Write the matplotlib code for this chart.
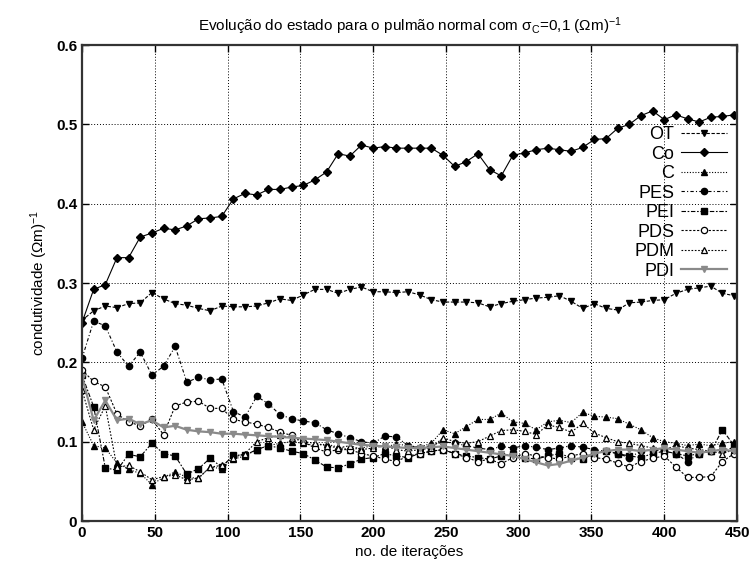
import matplotlib
matplotlib.use("Agg")
import matplotlib.pyplot as plt
import numpy as np

plt.rcParams['font.family'] = ['Liberation Sans', 'DejaVu Sans']
plt.rcParams['mathtext.fontset'] = 'custom'
plt.rcParams['mathtext.rm'] = 'Liberation Sans'
plt.rcParams['mathtext.it'] = 'Liberation Sans:italic'

iteracoes = np.arange(0, 449, 8)

ot = [0.253, 0.265, 0.271, 0.269, 0.274, 0.275, 0.288, 0.280, 0.274, 0.272,
      0.268, 0.265, 0.271, 0.270, 0.270, 0.271, 0.275, 0.280, 0.278, 0.285,
      0.292, 0.292, 0.287, 0.292, 0.295, 0.289, 0.289, 0.288, 0.289, 0.285,
      0.279, 0.276, 0.276, 0.276, 0.275, 0.270, 0.274, 0.277, 0.279, 0.281,
      0.282, 0.284, 0.277, 0.268, 0.274, 0.268, 0.266, 0.275, 0.276, 0.278,
      0.279, 0.287, 0.292, 0.294, 0.296, 0.287, 0.284]
co = [0.250, 0.292, 0.298, 0.332, 0.332, 0.358, 0.363, 0.369, 0.367, 0.372,
      0.381, 0.382, 0.384, 0.406, 0.413, 0.411, 0.418, 0.418, 0.421, 0.423,
      0.430, 0.440, 0.463, 0.460, 0.474, 0.470, 0.472, 0.470, 0.470, 0.470,
      0.470, 0.461, 0.447, 0.453, 0.463, 0.443, 0.435, 0.461, 0.464, 0.468,
      0.470, 0.468, 0.466, 0.471, 0.481, 0.482, 0.495, 0.500, 0.511, 0.517,
      0.506, 0.512, 0.507, 0.503, 0.509, 0.510, 0.512]
c = [0.125, 0.095, 0.092, 0.073, 0.065, 0.060, 0.046, 0.055, 0.062, 0.055,
     0.054, 0.068, 0.066, 0.078, 0.082, 0.090, 0.095, 0.098, 0.100, 0.098,
     0.095, 0.097, 0.093, 0.090, 0.092, 0.095, 0.093, 0.097, 0.095, 0.093,
     0.098, 0.115, 0.110, 0.119, 0.128, 0.128, 0.136, 0.125, 0.123, 0.115,
     0.125, 0.127, 0.124, 0.137, 0.132, 0.131, 0.129, 0.122, 0.115, 0.105,
     0.100, 0.098, 0.095, 0.097, 0.095, 0.098, 0.100]
pes = [0.205, 0.252, 0.246, 0.213, 0.195, 0.213, 0.184, 0.195, 0.220, 0.175,
       0.181, 0.178, 0.179, 0.138, 0.131, 0.157, 0.148, 0.134, 0.129, 0.126,
       0.124, 0.115, 0.110, 0.105, 0.100, 0.098, 0.107, 0.106, 0.095, 0.092,
       0.095, 0.100, 0.098, 0.095, 0.092, 0.090, 0.094, 0.092, 0.095, 0.093,
       0.090, 0.092, 0.095, 0.093, 0.090, 0.088, 0.085, 0.080, 0.088, 0.090,
       0.088, 0.085, 0.075, 0.085, 0.088, 0.090, 0.092]
pei = [0.184, 0.144, 0.067, 0.064, 0.084, 0.081, 0.098, 0.085, 0.082, 0.059,
       0.066, 0.079, 0.068, 0.083, 0.083, 0.090, 0.095, 0.092, 0.088, 0.085,
       0.077, 0.068, 0.067, 0.072, 0.078, 0.080, 0.085, 0.082, 0.080, 0.085,
       0.088, 0.090, 0.085, 0.082, 0.080, 0.078, 0.082, 0.085, 0.080, 0.078,
       0.082, 0.085, 0.080, 0.078, 0.085, 0.088, 0.085, 0.082, 0.080, 0.085,
       0.088, 0.085, 0.082, 0.085, 0.088, 0.115, 0.095]
pds = [0.190, 0.176, 0.169, 0.135, 0.125, 0.120, 0.128, 0.109, 0.145, 0.150,
       0.151, 0.142, 0.142, 0.128, 0.125, 0.122, 0.118, 0.112, 0.108, 0.100,
       0.092, 0.087, 0.090, 0.090, 0.085, 0.082, 0.078, 0.075, 0.082, 0.085,
       0.088, 0.090, 0.085, 0.080, 0.075, 0.078, 0.072, 0.080, 0.085, 0.082,
       0.080, 0.078, 0.082, 0.085, 0.080, 0.078, 0.073, 0.068, 0.075, 0.079,
       0.082, 0.068, 0.055, 0.055, 0.056, 0.075, 0.085]
pdm = [0.165, 0.115, 0.145, 0.068, 0.070, 0.062, 0.052, 0.056, 0.058, 0.052,
       0.054, 0.068, 0.070, 0.080, 0.085, 0.100, 0.105, 0.108, 0.105, 0.100,
       0.098, 0.095, 0.092, 0.095, 0.090, 0.092, 0.095, 0.090, 0.088, 0.090,
       0.092, 0.105, 0.100, 0.098, 0.100, 0.107, 0.114, 0.115, 0.113, 0.109,
       0.121, 0.118, 0.112, 0.123, 0.111, 0.105, 0.100, 0.098, 0.095, 0.092,
       0.090, 0.095, 0.092, 0.090, 0.088, 0.085, 0.090]
pdi = [0.182, 0.127, 0.152, 0.127, 0.129, 0.122, 0.127, 0.118, 0.120, 0.115,
       0.113, 0.112, 0.110, 0.110, 0.109, 0.108, 0.107, 0.106, 0.105, 0.104,
       0.103, 0.102, 0.100, 0.098, 0.096, 0.095, 0.094, 0.093, 0.092, 0.092,
       0.093, 0.094, 0.092, 0.090, 0.088, 0.086, 0.084, 0.082, 0.078, 0.074,
       0.070, 0.072, 0.076, 0.080, 0.085, 0.088, 0.090, 0.090, 0.088, 0.090,
       0.092, 0.090, 0.088, 0.086, 0.088, 0.090, 0.088]

fig = plt.figure(figsize=(7.49, 5.63), dpi=100)
ax = fig.add_axes([0.1095, 0.0746, 0.8745, 0.8454])

ms = 4.5
ax.plot(iteracoes, ot, color='black', lw=0.8, ls=(0, (3, 1.5)), marker='v', ms=ms, label='OT')
ax.plot(iteracoes, co, color='black', lw=0.8, ls='-', marker='D', ms=3.8, label='Co')
ax.plot(iteracoes, c, color='black', lw=0.8, ls=(0, (1, 1.5)), marker='^', ms=ms, label='C')
ax.plot(iteracoes, pes, color='black', lw=0.8, ls=(0, (3, 2, 1, 2)), marker='o', ms=ms, label='PES')
ax.plot(iteracoes, pei, color='black', lw=0.8, ls=(0, (4, 1.5, 1.5, 1.5)), marker='s', ms=ms, label='PEI')
ax.plot(iteracoes, pds, color='black', lw=0.8, ls=(0, (2, 1.5)), marker='o', ms=ms,
        mfc='white', mew=0.9, label='PDS')
ax.plot(iteracoes, pdm, color='black', lw=0.8, ls=(0, (1.5, 1.5)), marker='^', ms=ms,
        mfc='white', mew=0.9, label='PDM')
ax.plot(iteracoes, pdi, color='#8a8a8a', lw=1.6, ls='-', marker='v', ms=ms, label='PDI')

ax.set_xlim(0, 450)
ax.set_ylim(0, 0.6)
ax.set_xticks(np.arange(0, 451, 50))
ax.set_yticks(np.arange(0, 0.61, 0.1))
ax.set_yticklabels(['0', '0.1', '0.2', '0.3', '0.4', '0.5', '0.6'])
ax.tick_params(direction='in', top=True, right=True, length=5, labelsize=11, width=1)
for lab in ax.get_xticklabels() + ax.get_yticklabels():
    lab.set_fontweight('bold')
ax.grid(True, color='black', ls=(0, (1, 2)), lw=0.7)
for s in ax.spines.values():
    s.set_linewidth(1.6)
    s.set_color('#333333')

ax.set_title('Evolução do estado para o pulmão normal com σ$_\\mathrm{C}$=0,1 (Ωm)$^{-1}$',
             fontsize=11, pad=10)
ax.set_xlabel('no. de iterações', fontsize=11)
ax.set_ylabel('condutividade (Ωm)$^{-1}$', fontsize=11)

leg = ax.legend(loc='upper right', bbox_to_anchor=(0.995, 0.845), frameon=False,
                markerfirst=False, fontsize=13, handlelength=2.5, labelspacing=0.14,
                handletextpad=0.4, borderaxespad=0.0)

fig.savefig('out.png', dpi=100)
